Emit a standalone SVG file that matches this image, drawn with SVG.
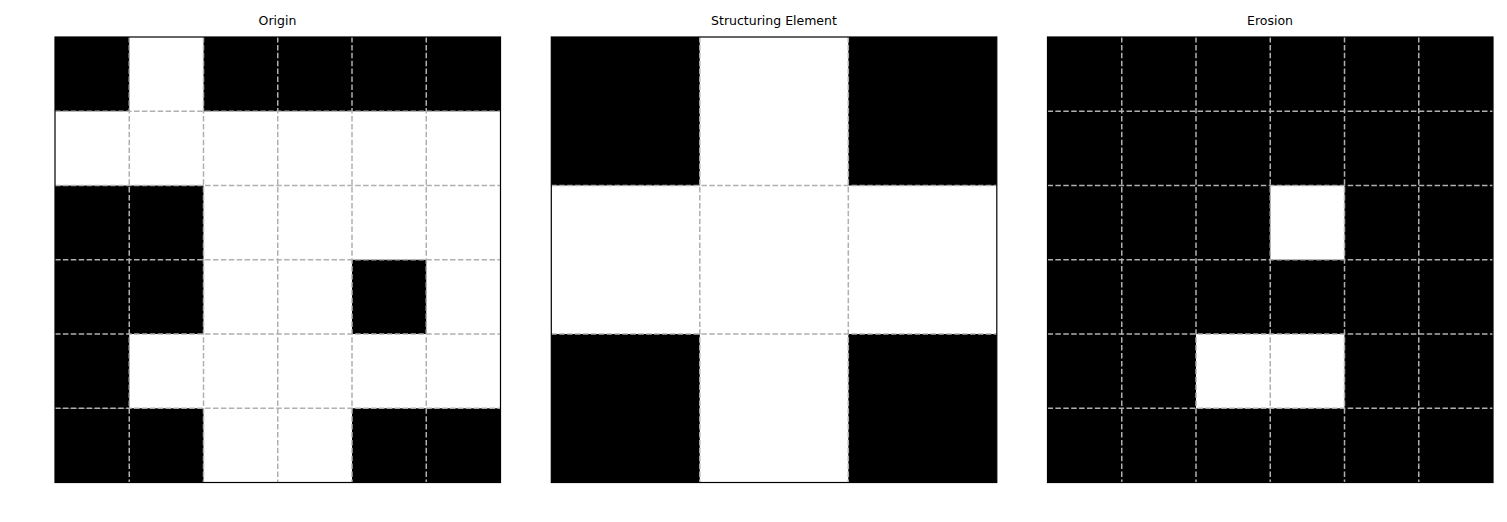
<svg xmlns="http://www.w3.org/2000/svg" width="1507" height="522" viewBox="0 0 1507 522">
<style>
.bg{fill:#ffffff}
.b{fill:#000000}
.w{fill:#ffffff}
.grid{stroke:#b0b0b0;stroke-width:1.5;stroke-dasharray:5.5 2.4;fill:none}
.frame{fill:none;stroke:#000000;stroke-width:1.2}
.title{font-family:"DejaVu Sans",sans-serif;font-size:12.5px;fill:#000000;text-anchor:middle}
</style>
<rect class="bg" x="0" y="0" width="1507" height="522"/>
<g id="origin">
<text class="title" x="277.5" y="25">Origin</text>
<rect class="w" x="55" y="37" width="445.5" height="445.5"/>
<g class="b">
<rect x="55" y="37" width="74.25" height="74.25"/>
<rect x="203.5" y="37" width="297" height="74.25"/>
<rect x="55" y="185.5" width="148.5" height="148.5"/>
<rect x="352" y="259.75" width="74.25" height="74.25"/>
<rect x="55" y="334" width="74.25" height="74.25"/>
<rect x="55" y="408.25" width="148.5" height="74.25"/>
<rect x="352" y="408.25" width="148.5" height="74.25"/>
</g>
<g class="grid">
<path d="M129.25 37V482.5M203.5 37V482.5M277.75 37V482.5M352 37V482.5M426.25 37V482.5"/>
<path d="M55 111.25H500.5M55 185.5H500.5M55 259.75H500.5M55 334H500.5M55 408.25H500.5"/>
</g>
<rect class="frame" x="55" y="37" width="445.5" height="445.5"/>
</g>
<g id="structuring-element">
<text class="title" x="774" y="25">Structuring Element</text>
<rect class="w" x="551.3" y="37" width="445.5" height="445.5"/>
<g class="b">
<rect x="551.3" y="37" width="148.5" height="148.5"/>
<rect x="848.3" y="37" width="148.5" height="148.5"/>
<rect x="551.3" y="334" width="148.5" height="148.5"/>
<rect x="848.3" y="334" width="148.5" height="148.5"/>
</g>
<g class="grid">
<path d="M699.8 37V482.5M848.3 37V482.5"/>
<path d="M551.3 185.5H996.8M551.3 334H996.8"/>
</g>
<rect class="frame" x="551.3" y="37" width="445.5" height="445.5"/>
</g>
<g id="erosion">
<text class="title" x="1270" y="25">Erosion</text>
<rect class="b" x="1047.5" y="37" width="445.5" height="445.5"/>
<g class="w">
<rect x="1270.25" y="185.5" width="74.25" height="74.25"/>
<rect x="1196" y="334" width="148.5" height="74.25"/>
</g>
<g class="grid">
<path d="M1121.75 37V482.5M1196 37V482.5M1270.25 37V482.5M1344.5 37V482.5M1418.75 37V482.5"/>
<path d="M1047.5 111.25H1493M1047.5 185.5H1493M1047.5 259.75H1493M1047.5 334H1493M1047.5 408.25H1493"/>
</g>
<rect class="frame" x="1047.5" y="37" width="445.5" height="445.5"/>
</g>
<g id="connectors"></g>
</svg>
